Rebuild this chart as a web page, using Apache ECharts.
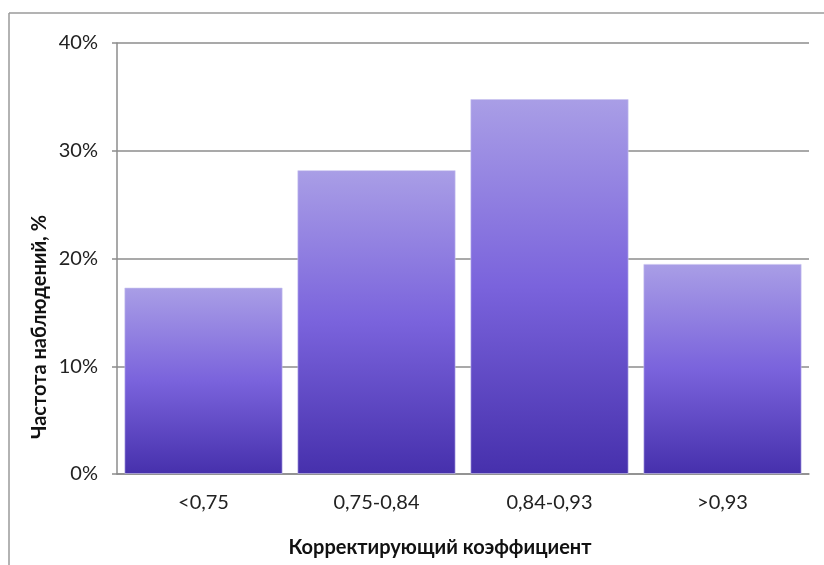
<!DOCTYPE html>
<html>
<head>
<meta charset="utf-8">
<script src="https://cdn.jsdelivr.net/npm/echarts@6/dist/echarts.min.js"></script>
<style>html,body{margin:0;padding:0;background:#fff}#c{width:824px;height:565px}</style>
</head>
<body>
<div id="c"></div>
<script>
const categories = ['<0,75', '0,75-0,84', '0,84-0,93', '>0,93'];
const values = [17.3, 28.2, 34.8, 19.5];
const yTicks = [0, 10, 20, 30, 40];
const yTitle = 'Частота наблюдений, %';
const xTitle = 'Корректирующий коэффициент';

const chart = echarts.init(document.getElementById('c'));
chart.setOption({
  animation: false,
  textStyle: { fontFamily: 'Lato' },
  graphic: [
    { type: 'line', shape: { x1: 9, y1: 13, x2: 824, y2: 13 }, style: { stroke: '#9a9a9a', lineWidth: 1.5 } },
    { type: 'line', shape: { x1: 9, y1: 13, x2: 9, y2: 565 }, style: { stroke: '#9a9a9a', lineWidth: 1.5 } },
    { type: 'text', x: 40, y: 327, rotation: Math.PI / 2,
      style: { text: yTitle, fill: '#111', font: 'bold 20px Lato', align: 'center', verticalAlign: 'middle' } },
    { type: 'text', x: 440, y: 548,
      style: { text: xTitle, fill: '#111', font: 'bold 20px Lato', align: 'center', verticalAlign: 'middle' } }
  ],
  grid: { left: 117, right: 15, top: 43, bottom: 91, containLabel: false },
  xAxis: {
    type: 'category',
    data: categories,
    axisLine: { lineStyle: { color: '#8c8c8c', width: 1.5 } },
    axisTick: { show: false },
    axisLabel: { color: '#222', fontSize: 20, margin: 19 }
  },
  yAxis: {
    type: 'value',
    min: yTicks[0],
    max: yTicks[yTicks.length - 1],
    interval: 10,
    axisLine: { show: true, lineStyle: { color: '#8c8c8c', width: 1.5 } },
    axisTick: { show: true, length: 5, lineStyle: { color: '#8c8c8c', width: 1.5 } },
    splitLine: { lineStyle: { color: '#8c8c8c', width: 1.5 } },
    axisLabel: { color: '#222', fontSize: 20, margin: 19, formatter: v => v + '%' }
  },
  series: [{
    type: 'bar',
    data: values,
    barCategoryGap: '8.5%',
    itemStyle: {
      color: new echarts.graphic.LinearGradient(0, 0, 0, 1, [
        { offset: 0, color: '#a99ee6' },
        { offset: 0.5, color: '#7a63dc' },
        { offset: 1, color: '#4630ac' }
      ]),
      borderColor: 'rgba(200,195,240,0.6)',
      borderWidth: 1
    }
  }]
});
</script>
</body>
</html>
